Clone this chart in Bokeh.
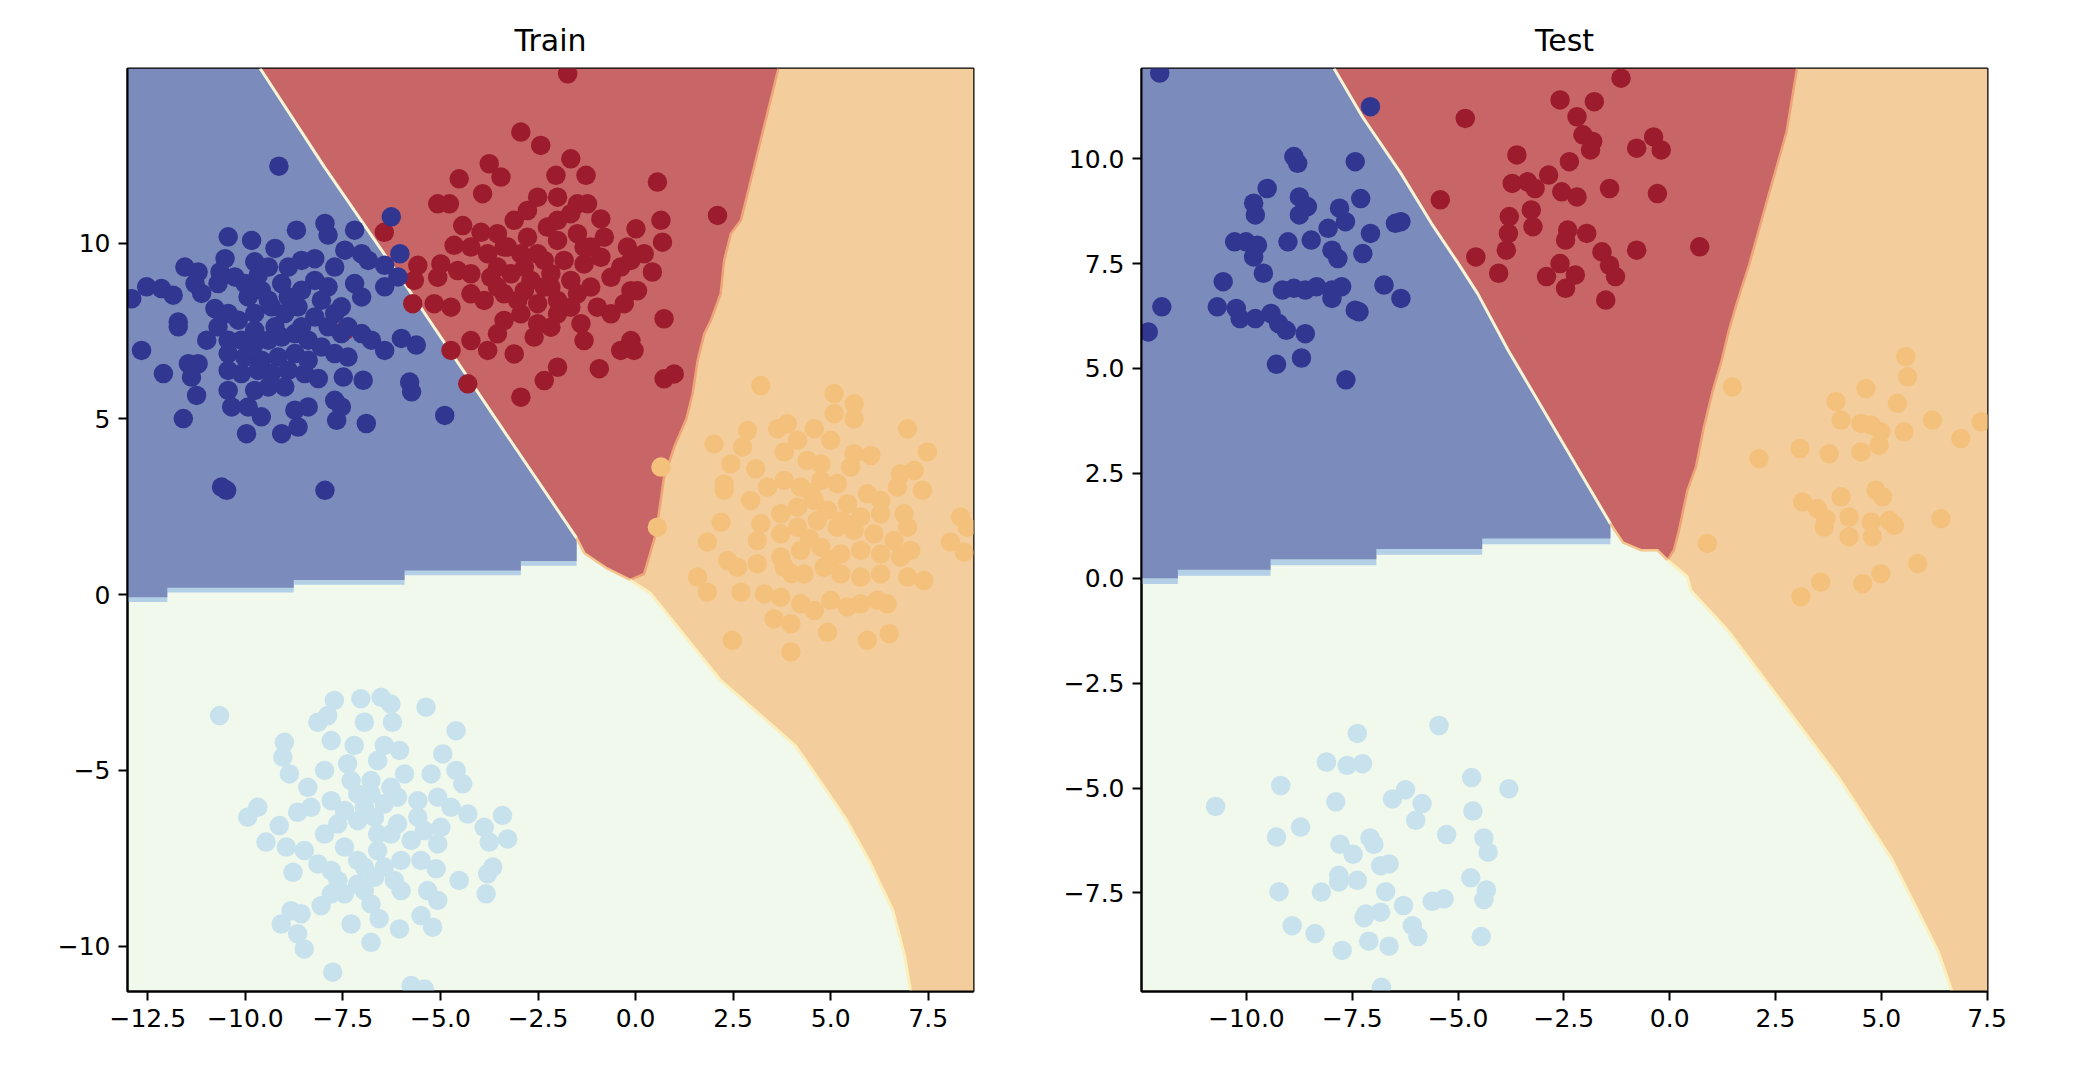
from bokeh.plotting import figure
from bokeh.layouts import row
from bokeh.models import Range1d, FixedTicker, CustomJSTickFormatter
from bokeh.embed import file_html
from bokeh.resources import INLINE

# ---------------- colours ----------------
C_BLUE_PT = "#313690"
C_RED_PT = "#9c1b2d"
C_ORANGE_PT = "#f4c17c"
C_LBLUE_PT = "#c7e2ed"
C_BLUE_BG = "#7b8bbc"
C_RED_BG = "#c76567"
C_ORANGE_BG = "#f4cd9d"
C_GREEN_BG = "#f1f8ec"
C_BAND = "#b3d0e6"
FONT = "DejaVu Sans"

# ---------------- axis limits and ticks ----------------
train_xlim = (-13.02, 8.66)
train_ylim = (-11.29, 14.97)
test_xlim = (-12.48, 7.51)
test_ylim = (-9.85, 12.15)
train_xticks = [-12.5, -10.0, -7.5, -5.0, -2.5, 0.0, 2.5, 5.0, 7.5]
train_yticks = [-10, -5, 0, 5, 10]
test_xticks = [-10.0, -7.5, -5.0, -2.5, 0.0, 2.5, 5.0, 7.5]
test_yticks = [-7.5, -5.0, -2.5, 0.0, 2.5, 5.0, 7.5, 10.0]

# ---------------- decision regions: train ----------------
train_blue_red_x = [-9.62, -7.98, -5.82, -3.60, -1.51]
train_blue_red_y = [14.97, 12.18, 8.69, 5.03, 1.61]
train_blue_base_x = [-1.51, -1.51, -2.94, -2.94, -5.92, -5.92, -8.76, -8.76, -12.0, -12.0, -13.02]
train_blue_base_y = [1.61, 0.96, 0.96, 0.69, 0.69, 0.42, 0.42, 0.20, 0.20, -0.07, -0.07]
train_red_orange_x = [3.66, 2.70, 2.44, 2.27, 2.18, 1.93, 1.76, 1.59, 1.46, 1.30, 0.99, 0.73, 0.52, 0.22, -0.14]
train_red_orange_y = [14.97, 10.65, 10.27, 9.51, 8.56, 7.80, 7.42, 6.66, 5.71, 5.00, 4.20, 3.34, 1.73, 0.59, 0.42]
train_red_base_x = [-0.14, -0.72, -1.31, -1.51]
train_red_base_y = [0.42, 0.74, 1.18, 1.61]
train_orange_green_x = [-0.14, 0.39, 2.18, 4.10, 4.60, 5.40, 6.00, 6.60, 6.90, 7.05]
train_orange_green_y = [0.42, 0.03, -2.44, -4.30, -5.10, -6.40, -7.60, -9.00, -10.30, -11.29]

# ---------------- decision regions: test ----------------
test_blue_red_x = [-7.93, -7.26, -6.35, -5.63, -5.00, -4.54, -3.82, -1.40]
test_blue_red_y = [12.15, 11.00, 9.65, 8.46, 7.51, 6.79, 5.44, 1.30]
test_blue_base_x = [-1.40, -1.40, -4.43, -4.43, -6.93, -6.93, -9.43, -9.43, -11.62, -11.62, -12.48]
test_blue_base_y = [1.30, 0.95, 0.95, 0.70, 0.70, 0.45, 0.45, 0.20, 0.20, 0.00, 0.00]
test_red_orange_x = [3.01, 2.76, 2.30, 1.88, 1.60, 1.40, 1.21, 1.01, 0.81, 0.62, 0.42, 0.22, 0.10, -0.05]
test_red_orange_y = [12.15, 10.63, 9.00, 7.48, 6.60, 5.91, 5.12, 4.44, 3.61, 2.65, 2.10, 1.14, 0.67, 0.43]
test_red_base_x = [-0.05, -0.29, -0.68, -1.10, -1.40]
test_red_base_y = [0.43, 0.67, 0.67, 0.85, 1.30]
test_orange_green_x = [-0.05, 0.42, 0.50, 1.37, 4.00, 4.64, 5.26, 5.89, 6.36, 6.67]
test_orange_green_y = [0.43, 0.03, -0.29, -1.24, -4.76, -5.75, -6.72, -7.98, -8.93, -9.85]

# ---------------- samples: train ----------------
train_blue = [
    (-9.14, 12.19), (-6.26, 10.75), (-6.04, 9.70), (-10.44, 10.18), (-9.84, 10.08), (-8.69, 10.37),
    (-7.96, 10.56), (-7.88, 10.23), (-7.20, 10.37), (-9.24, 9.85), (-7.45, 9.80), (-7.02, 9.70),
    (-6.85, 9.51), (-6.43, 9.37), (-6.09, 9.04), (-6.43, 8.76), (-10.52, 9.56), (-9.76, 9.47),
    (-11.55, 9.32), (-11.21, 9.18), (-10.65, 9.18), (-10.27, 9.04), (-12.53, 8.76), (-12.15, 8.71),
    (-11.85, 8.52), (-12.91, 8.42), (-11.29, 8.85), (-11.12, 8.57), (-10.70, 8.85), (-9.67, 9.09),
    (-9.41, 9.32), (-8.90, 9.32), (-8.56, 9.51), (-8.22, 9.56), (-7.71, 9.32), (-7.20, 8.85),
    (-7.02, 8.47), (-7.54, 8.19), (-8.05, 8.38), (-8.56, 8.66), (-9.07, 8.85), (-9.59, 8.66),
    (-9.93, 8.47), (-10.78, 8.14), (-10.44, 8.00), (-11.72, 7.76), (-11.72, 7.62), (-10.99, 7.24),
    (-10.70, 7.62), (-10.18, 7.81), (-9.76, 8.00), (-9.33, 8.19), (-8.99, 8.00), (-8.65, 8.19),
    (-8.22, 7.90), (-7.88, 7.62), (-7.54, 7.43), (-7.02, 7.43), (-6.77, 7.24), (-6.43, 6.95),
    (-6.00, 7.29), (-5.62, 7.10), (-12.66, 6.95), (-10.44, 7.24), (-10.10, 7.24), (-9.76, 7.14),
    (-9.41, 7.24), (-9.07, 7.33), (-8.73, 7.43), (-8.39, 7.24), (-8.05, 7.05), (-7.71, 6.86),
    (-7.37, 6.76), (-10.44, 6.86), (-10.01, 6.76), (-9.59, 6.67), (-9.16, 6.76), (-8.73, 6.86),
    (-8.39, 6.67), (-11.46, 6.57), (-11.21, 6.57), (-12.10, 6.29), (-11.38, 6.19), (-10.44, 6.38),
    (-10.10, 6.29), (-9.67, 6.38), (-9.33, 6.29), (-8.90, 6.38), (-8.48, 6.29), (-8.13, 6.15),
    (-7.49, 6.19), (-6.98, 6.10), (-5.79, 6.05), (-5.74, 5.77), (-11.25, 5.67), (-10.44, 5.81),
    (-9.76, 5.81), (-9.41, 5.91), (-8.99, 5.91), (-10.35, 5.34), (-9.93, 5.34), (-9.59, 5.06),
    (-8.73, 5.25), (-8.39, 5.34), (-7.71, 5.53), (-7.54, 5.34), (-11.59, 5.01), (-9.97, 4.58),
    (-9.07, 4.58), (-8.65, 4.77), (-7.66, 4.96), (-6.90, 4.87), (-4.89, 5.10), (-10.61, 3.06),
    (-10.48, 2.97), (-7.96, 2.97), (-8.22, 8.94), (-7.88, 8.76), (-8.90, 8.47), (-9.41, 8.38),
    (-10.01, 8.85), (-7.71, 8.00), (-7.37, 7.62), (-9.24, 7.62), (-8.56, 7.62), (-9.76, 7.52),
]
train_red = [
    (-7.45, 7.52),
    (-1.74, 14.82), (-2.94, 13.16), (-2.43, 12.78), (-1.66, 12.40), (-3.75, 12.26), (-3.45, 11.88),
    (-4.52, 11.83), (-2.04, 11.93), (-1.27, 11.93), (-3.92, 11.41), (-5.07, 11.12), (-4.77, 11.12),
    (0.56, 11.74), (2.10, 10.79), (-2.51, 11.31), (-2.00, 11.31), (-1.49, 11.12), (-1.23, 11.12),
    (-2.77, 10.93), (-1.66, 10.84), (-0.89, 10.69), (0.01, 10.41), (0.65, 10.65), (0.69, 10.03),
    (-0.21, 9.89), (0.22, 9.70), (0.43, 9.18), (-4.43, 10.50), (-3.96, 10.31), (-4.65, 9.94),
    (-3.54, 10.27), (-3.11, 10.65), (-3.28, 9.89), (-2.77, 10.17), (-2.26, 10.46), (-2.00, 10.08),
    (-1.49, 10.27), (-1.15, 9.89), (-0.80, 10.17), (-4.22, 9.89), (-3.79, 9.70), (-2.94, 9.70),
    (-2.34, 9.51), (-1.83, 9.51), (-1.32, 9.41), (-0.89, 9.60), (-0.38, 9.32), (-0.12, 9.51),
    (-5.58, 9.37), (-4.99, 9.41), (-4.56, 9.22), (-5.67, 8.94), (-5.07, 9.03), (-4.22, 9.13),
    (-3.71, 9.03), (-3.19, 9.13), (-2.68, 8.94), (-2.17, 9.13), (-1.66, 8.94), (-1.15, 8.75),
    (-0.63, 9.03), (-0.12, 8.65), (0.05, 8.65), (-5.16, 8.28), (-4.73, 8.18), (-4.22, 8.56),
    (-3.88, 8.37), (-3.37, 8.56), (-2.85, 8.65), (-2.51, 8.28), (-2.00, 8.37), (-1.49, 8.56),
    (-0.98, 8.18), (-0.63, 7.99), (-0.29, 8.28), (-5.71, 8.28), (-3.37, 7.80), (-2.94, 7.99),
    (-2.51, 7.71), (-2.00, 7.99), (-1.40, 7.71), (-1.32, 7.23), (0.73, 7.85), (-4.73, 6.95),
    (-4.22, 7.23), (-3.79, 6.95), (-3.11, 6.85), (-3.54, 7.42), (-2.60, 7.33), (-2.17, 7.61),
    (-0.38, 6.95), (-0.04, 6.95), (-0.12, 7.23), (-2.00, 6.47), (-2.34, 6.09), (-0.93, 6.43),
    (0.73, 6.14), (0.99, 6.28), (-4.30, 6.00), (-2.94, 5.62), (-6.44, 10.31), (-2.85, 9.32),
    (-3.54, 9.32), (-2.17, 8.75), (-3.54, 8.75), (-3.02, 8.37), (-1.66, 8.18), (-2.34, 8.75),
    (-3.37, 9.89), (-2.51, 9.70), (-1.32, 9.89), (-2.00, 10.65),
]
train_orange = [
    (3.21, 5.95), (5.09, 5.72), (5.60, 5.43), (5.09, 5.15), (5.60, 5.00), (6.97, 4.72),
    (2.87, 4.67), (3.64, 4.72), (3.89, 4.86), (4.58, 4.72), (2.01, 4.29), (2.74, 4.20),
    (4.15, 4.39), (5.00, 4.39), (7.48, 4.06), (2.44, 3.72), (3.08, 3.58), (3.81, 4.06),
    (4.40, 3.82), (4.75, 3.72), (5.60, 4.01), (6.03, 3.96), (5.51, 3.63), (6.79, 3.44),
    (7.14, 3.53), (0.65, 3.63), (2.27, 3.15), (2.27, 2.97), (2.95, 2.68), (3.38, 3.06),
    (3.81, 3.25), (4.23, 3.06), (4.75, 3.25), (5.17, 3.16), (5.94, 2.87), (6.28, 2.68),
    (6.71, 3.06), (7.35, 2.97), (2.19, 2.06), (0.56, 1.92), (3.21, 2.02), (3.72, 2.30),
    (4.15, 2.49), (4.58, 2.68), (4.92, 2.40), (5.43, 2.59), (5.77, 2.21), (6.28, 2.30),
    (6.88, 2.30), (6.97, 1.92), (8.33, 2.21), (8.50, 1.92), (1.84, 1.50), (3.12, 1.54),
    (3.72, 1.73), (4.15, 1.92), (4.66, 2.11), (5.17, 1.92), (5.60, 1.83), (6.11, 1.73),
    (6.62, 1.54), (7.05, 1.26), (8.07, 1.50), (8.42, 1.21), (2.36, 0.97), (2.61, 0.78),
    (3.12, 0.88), (3.72, 1.07), (4.23, 1.26), (4.75, 1.35), (5.26, 1.16), (5.77, 1.26),
    (6.28, 1.16), (6.79, 1.07), (1.59, 0.50), (1.84, 0.07), (2.70, 0.07), (3.30, 0.02),
    (3.72, -0.07), (3.81, 0.78), (4.32, 0.59), (4.83, 0.78), (5.26, 0.59), (5.77, 0.50),
    (6.28, 0.59), (6.97, 0.50), (7.39, 0.40), (4.23, -0.26), (4.58, -0.45), (5.00, -0.16),
    (5.43, -0.35), (5.77, -0.26), (6.20, -0.16), (6.45, -0.26), (3.55, -0.69), (3.98, -0.83),
    (4.92, -1.07), (5.94, -1.30), (6.50, -1.11), (2.48, -1.30), (3.98, -1.63),
    (4.45, 1.60), (5.00, 1.00), (4.50, 2.90), (5.30, 2.10), (4.00, 0.60),
]
train_lightblue = [
    (-10.66, -3.44), (-7.72, -3.01), (-7.04, -2.96), (-6.52, -2.92), (-6.27, -3.11), (-5.37, -3.20),
    (-6.95, -3.63), (-6.23, -3.63), (-8.14, -3.63), (-7.89, -3.44), (-7.80, -4.15), (-4.60, -3.87),
    (-9.00, -4.20), (-9.04, -4.62), (-7.21, -4.29), (-6.44, -4.29), (-6.05, -4.43), (-4.94, -4.53),
    (-8.87, -5.10), (-7.97, -5.00), (-7.38, -4.81), (-6.61, -4.72), (-5.92, -5.10), (-5.24, -5.10),
    (-4.60, -5.00), (-4.43, -5.38), (-8.40, -5.48), (-7.29, -5.29), (-6.78, -5.29), (-6.27, -5.48),
    (-9.68, -6.05), (-9.94, -6.33), (-9.13, -6.57), (-8.66, -6.19), (-8.32, -6.05), (-7.80, -5.86),
    (-7.46, -6.14), (-6.95, -6.05), (-6.44, -5.95), (-6.10, -5.76), (-5.58, -5.86), (-5.07, -5.76),
    (-4.73, -6.05), (-4.30, -6.24), (-3.41, -6.28), (-9.47, -7.04), (-8.95, -7.18), (-8.49, -7.28),
    (-7.97, -6.81), (-7.63, -6.52), (-7.12, -6.43), (-6.69, -6.33), (-6.10, -6.52), (-5.58, -6.33),
    (-5.41, -6.71), (-4.99, -6.62), (-3.88, -6.62), (-3.75, -7.04), (-3.28, -6.95), (-7.46, -7.18),
    (-7.12, -7.56), (-6.61, -7.28), (-6.27, -6.81), (-5.75, -6.99), (-5.07, -7.09), (-8.14, -7.66),
    (-7.80, -7.85), (-8.78, -7.90), (-6.44, -7.75), (-6.01, -7.56), (-5.50, -7.56), (-5.11, -7.80),
    (-4.52, -8.13), (-3.79, -7.94), (-3.66, -7.75), (-7.63, -8.13), (-7.12, -8.23), (-6.69, -8.04),
    (-6.18, -8.13), (-7.46, -8.51), (-7.80, -8.51), (-8.06, -8.85), (-6.95, -8.42), (-6.78, -8.80),
    (-6.01, -8.42), (-5.33, -8.42), (-5.07, -8.70), (-3.83, -8.51), (-8.83, -8.99), (-9.08, -9.37),
    (-8.57, -9.08), (-8.66, -9.65), (-7.29, -9.37), (-6.57, -9.22), (-6.05, -9.51), (-5.50, -9.13),
    (-5.20, -9.46), (-6.78, -9.89), (-8.49, -10.08), (-7.76, -10.74), (-5.75, -11.12), (-5.41, -11.22),
    (-7.12, -5.67), (-6.78, -5.67), (-6.61, -6.81), (-6.95, -7.75),
]

# ---------------- samples: test ----------------
test_blue = [
    (-12.05, 12.04), (-7.07, 11.24), (-8.88, 10.05), (-8.79, 9.89), (-7.43, 9.93), (-9.51, 9.29),
    (-9.83, 8.94), (-9.79, 8.66), (-8.75, 9.09), (-8.56, 8.86), (-8.75, 8.66), (-7.80, 8.82),
    (-7.66, 8.50), (-7.30, 9.05), (-8.07, 8.34), (-6.48, 8.46), (-6.35, 8.50), (-10.28, 8.02),
    (-10.01, 8.02), (-9.74, 7.94), (-9.02, 8.02), (-8.47, 8.06), (-9.83, 7.66), (-7.98, 7.82),
    (-7.84, 7.62), (-7.07, 8.22), (-7.25, 7.74), (-9.60, 7.27), (-10.55, 7.07), (-9.15, 6.87),
    (-8.88, 6.91), (-8.61, 6.87), (-8.34, 6.95), (-7.98, 6.87), (-7.75, 6.95), (-7.98, 6.67),
    (-6.75, 6.99), (-6.35, 6.67), (-12.00, 6.47), (-10.69, 6.47), (-10.24, 6.43), (-10.15, 6.19),
    (-9.79, 6.19), (-9.42, 6.31), (-9.24, 6.07), (-9.06, 5.91), (-8.61, 5.83), (-7.43, 6.39),
    (-7.34, 6.35), (-12.32, 5.87), (-9.29, 5.10), (-8.70, 5.25), (-7.65, 4.73),
]
test_red = [
    (-1.15, 11.92), (-2.59, 11.40), (-1.78, 11.36), (-4.83, 10.96), (-2.19, 11.00), (-2.05, 10.57),
    (-1.82, 10.41), (-1.87, 10.21), (-0.78, 10.25), (-0.38, 10.52), (-0.20, 10.21), (-3.61, 10.09),
    (-2.37, 9.93), (-2.86, 9.61), (-3.72, 9.41), (-3.36, 9.45), (-3.18, 9.29), (-2.55, 9.21),
    (-2.19, 9.09), (-1.42, 9.29), (-0.29, 9.17), (-5.42, 9.02), (-3.27, 8.78), (-3.79, 8.62),
    (-3.23, 8.38), (-3.81, 8.22), (-2.41, 8.30), (-2.46, 8.06), (-1.96, 8.22), (-1.60, 7.78),
    (-0.78, 7.82), (0.71, 7.90), (-3.86, 7.82), (-4.58, 7.66), (-4.04, 7.27), (-2.91, 7.19),
    (-2.59, 7.50), (-2.23, 7.23), (-2.46, 6.91), (-1.42, 7.46), (-1.28, 7.19), (-1.51, 6.63),
]
test_orange = [
    (1.48, 4.56), (5.58, 5.28), (5.62, 4.80), (4.64, 4.52), (3.93, 4.21), (5.38, 4.17),
    (6.21, 3.77), (6.88, 3.33), (7.36, 3.73), (4.05, 3.77), (4.52, 3.69), (4.76, 3.65),
    (4.99, 3.49), (5.54, 3.49), (4.95, 3.17), (4.52, 3.01), (3.77, 2.97), (3.08, 3.09),
    (2.11, 2.85), (3.14, 1.82), (3.49, 1.66), (4.05, 1.94), (4.87, 2.10), (5.03, 1.94),
    (3.69, 1.42), (3.65, 1.22), (4.24, 1.46), (4.76, 1.34), (5.19, 1.38), (5.31, 1.26),
    (4.24, 0.99), (4.79, 0.99), (6.41, 1.42), (0.89, 0.83), (5.86, 0.35), (3.57, -0.09),
    (4.56, -0.13), (4.99, 0.11), (3.10, -0.44),
]
test_lightblue = [
    (-10.73, -5.44), (-7.38, -3.70), (-5.45, -3.51), (-8.11, -4.38), (-7.62, -4.46), (-7.26, -4.42),
    (-9.19, -4.94), (-7.89, -5.33), (-6.55, -5.26), (-6.24, -5.04), (-5.85, -5.37), (-6.00, -5.77),
    (-4.68, -4.75), (-3.80, -5.02), (-4.65, -5.55), (-8.72, -5.93), (-9.29, -6.17), (-7.79, -6.34),
    (-7.48, -6.58), (-7.08, -6.19), (-6.99, -6.34), (-5.27, -6.11), (-4.39, -6.19), (-4.29, -6.53),
    (-6.83, -6.85), (-6.63, -6.81), (-7.82, -7.08), (-7.82, -7.24), (-7.38, -7.20), (-4.70, -7.14),
    (-4.33, -7.43), (-4.39, -7.66), (-9.23, -7.47), (-8.23, -7.48), (-6.71, -7.47), (-6.29, -7.80),
    (-5.61, -7.70), (-5.33, -7.64), (-7.18, -8.00), (-6.83, -7.96), (-7.22, -8.09), (-8.92, -8.28),
    (-8.38, -8.47), (-6.08, -8.28), (-5.95, -8.54), (-4.45, -8.54), (-7.74, -8.87), (-7.11, -8.65),
    (-6.63, -8.77), (-6.81, -9.75),
]


def tick_formatter(decimals):
    return CustomJSTickFormatter(code="""
        const s = Math.abs(tick).toFixed(%d);
        return (tick < 0 ? "\\u2212" : "") + s;
    """ % decimals)


def make_panel(title, xlim, ylim, xticks, yticks, xdec, ydec, border_left, border_right,
               blue_red, blue_base, red_orange, red_base, orange_green, samples):
    p = figure(width=1037, height=1066, output_backend="svg", toolbar_location=None,
               x_range=Range1d(*xlim), y_range=Range1d(*ylim), title=title,
               min_border_left=border_left, min_border_right=border_right,
               min_border_top=68, min_border_bottom=75)
    p.background_fill_color = C_GREEN_BG
    p.border_fill_color = "white"
    p.outline_line_color = "black"
    p.outline_line_width = 2
    p.grid.visible = False

    p.title.text_font = FONT
    p.title.text_font_size = "30px"
    p.title.text_font_style = "normal"
    p.title.text_color = "black"
    p.title.align = "center"
    p.title.standoff = 21

    for ax in (p.xaxis[0], p.yaxis[0]):
        ax.axis_line_color = "black"
        ax.axis_line_width = 2
        ax.major_tick_line_color = "black"
        ax.major_tick_line_width = 2
        ax.major_tick_out = 9
        ax.major_tick_in = 0
        ax.minor_tick_line_color = None
        ax.major_label_text_font = FONT
        ax.major_label_text_font_size = "25px"
        ax.major_label_text_color = "black"
        ax.major_label_standoff = 8
    p.xaxis[0].ticker = FixedTicker(ticks=xticks)
    p.yaxis[0].ticker = FixedTicker(ticks=yticks)
    p.xaxis[0].formatter = tick_formatter(xdec)
    p.yaxis[0].formatter = tick_formatter(ydec)

    x0, x1 = xlim
    y0, y1 = ylim
    brx, bry = blue_red
    bbx, bby = blue_base
    rox, roy = red_orange
    rbx, rby = red_base
    ogx, ogy = orange_green

    # class regions (the light green class is the plot background)
    blue_x = [x0] + brx + bbx[1:]
    blue_y = [y1] + bry + bby[1:]
    p.patch(blue_x, [v - 0.14 for v in blue_y], fill_color=C_BAND, line_color=None)
    p.patch(blue_x, blue_y, fill_color=C_BLUE_BG, line_color=None)

    red_x = rox + rbx[1:] + brx[::-1][1:]
    red_y = roy + rby[1:] + bry[::-1][1:]
    p.patch(red_x, red_y, fill_color=C_RED_BG, line_color=None)

    orange_x = [x1, x1] + ogx[::-1] + rox[::-1]
    orange_y = [y1, y0] + ogy[::-1] + roy[::-1]
    p.patch(orange_x, orange_y, fill_color=C_ORANGE_BG, line_color=None)

    # thin transition bands between regions
    p.line(brx, bry, line_color="#f8f4d6", line_width=3)
    p.line(rox, roy, line_color="#eea477", line_width=2.5)
    p.line(rbx, rby, line_color="#f6c58c", line_width=2.5)
    p.line(ogx, ogy, line_color="#fbefbd", line_width=3)

    for pts, col in samples:
        xs = [a for a, b in pts]
        ys = [b for a, b in pts]
        p.scatter(xs, ys, size=19.5, fill_color=col, line_color=None)
    return p


p_train = make_panel(
    "Train", train_xlim, train_ylim, train_xticks, train_yticks, 1, 0, 127, 64,
    (train_blue_red_x, train_blue_red_y), (train_blue_base_x, train_blue_base_y),
    (train_red_orange_x, train_red_orange_y), (train_red_base_x, train_red_base_y),
    (train_orange_green_x, train_orange_green_y),
    [(train_red, C_RED_PT), (train_blue, C_BLUE_PT), (train_orange, C_ORANGE_PT),
     (train_lightblue, C_LBLUE_PT)])

p_test = make_panel(
    "Test", test_xlim, test_ylim, test_xticks, test_yticks, 1, 1, 104, 87,
    (test_blue_red_x, test_blue_red_y), (test_blue_base_x, test_blue_base_y),
    (test_red_orange_x, test_red_orange_y), (test_red_base_x, test_red_base_y),
    (test_orange_green_x, test_orange_green_y),
    [(test_red, C_RED_PT), (test_blue, C_BLUE_PT), (test_orange, C_ORANGE_PT),
     (test_lightblue, C_LBLUE_PT)])

layout = row(p_train, p_test)
open("out.html", "w", encoding="utf-8").write(file_html(layout, INLINE))
